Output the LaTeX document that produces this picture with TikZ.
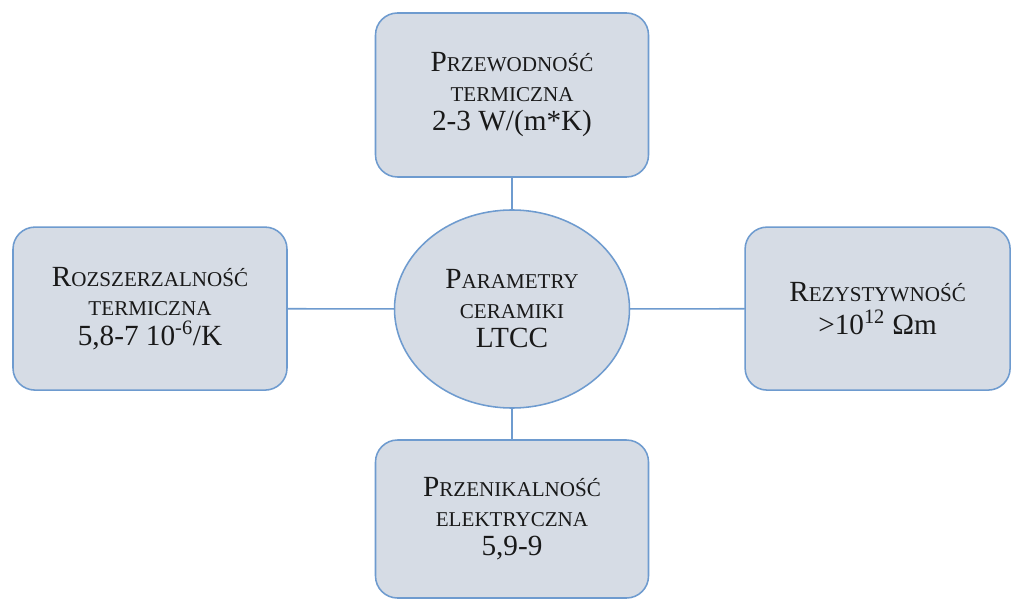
\documentclass[tikz,border=0pt]{standalone}
\usepackage{fontspec}
\setmainfont{Liberation Serif}
\usetikzlibrary{shapes.geometric}
\definecolor{ltccfill}{HTML}{D6DCE5}
\definecolor{ltccedge}{HTML}{6E9BCF}
\newcommand\kap[2]{#1{\fontsize{15}{21}\selectfont #2}}

\begin{document}
\begin{tikzpicture}[line cap=round,line join=round,
  font={\fontsize{20.8}{21}\selectfont},text=black!90,
  box/.style={draw=ltccedge,fill=ltccfill,line width=1.1pt,rounded corners=0.55cm,align=center,inner sep=2pt},
  hub/.style={ellipse,draw=ltccedge,fill=ltccfill,line width=1.1pt,align=center,inner sep=0pt,minimum width=5.875cm,minimum height=4.95cm},
  link/.style={ltccedge,line width=1.1pt}]
\path[use as bounding box] (0,0) rectangle (25.325,14.975);
\fill[white] (0,0) rectangle (25.325,14.975);
\node[hub] (ltcc) at (12.8,7.25) {\kap{P}{ARAMETRY}\\\kap{}{CERAMIKI}\\LTCC};
\node[box,minimum width=6.825cm,minimum height=4.1cm] (cond) at (12.8,12.6) {\kap{P}{RZEWODNOŚĆ}\\\kap{}{TERMICZNA}\\2-3 W/(m*K)};
\node[box,minimum width=6.85cm,minimum height=4.075cm] (expa) at (3.75,7.26) {\kap{R}{OZSZERZALNOŚĆ}\\\kap{}{TERMICZNA}\\5,8-7 10\textsuperscript{-6}/K};
\node[box,minimum width=6.625cm,minimum height=4.075cm] (resi) at (21.94,7.26) {\kap{R}{EZYSTYWNOŚĆ}\\[2pt]>10\textsuperscript{12} Ωm};
\node[box,minimum width=6.825cm,minimum height=3.95cm] (perm) at (12.8,2.0) {\kap{P}{RZENIKALNOŚĆ}\\\kap{}{ELEKTRYCZNA}\\5,9-9};
\draw[link] (cond)--(ltcc);
\draw[link] (expa)--(ltcc);
\draw[link] (ltcc)--(resi);
\draw[link] (ltcc)--(perm);
\end{tikzpicture}
\end{document}
